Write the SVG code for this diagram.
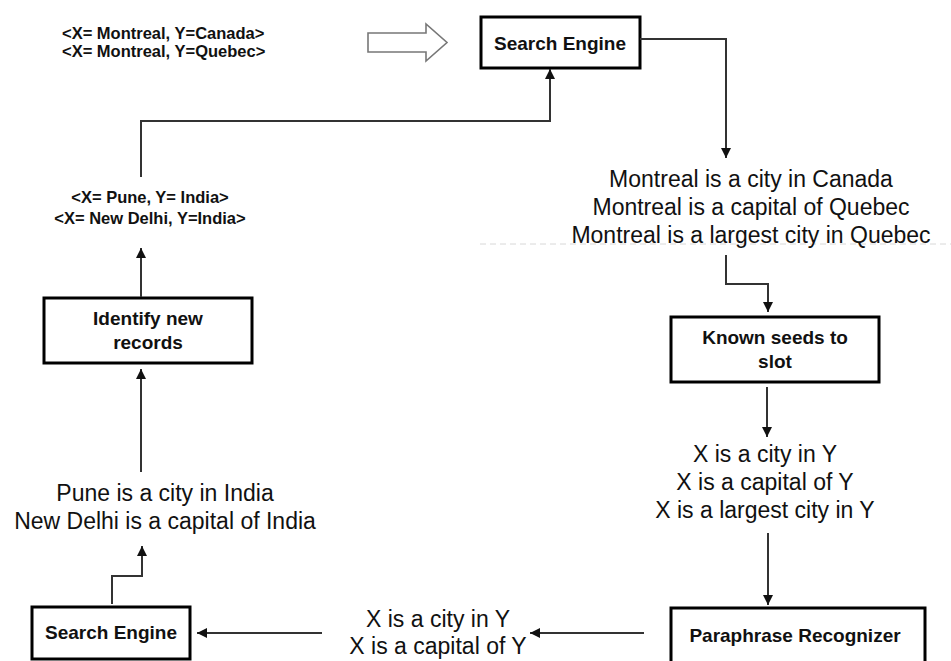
<svg xmlns="http://www.w3.org/2000/svg" width="951" height="661" viewBox="0 0 951 661">
<style>
.box{fill:#fff;stroke:#000;stroke-width:3}
.lbl{font-family:"Liberation Sans",Arial,sans-serif;font-weight:bold;font-size:19px;fill:#111;text-anchor:middle}
.tup{font-family:"Liberation Sans",Arial,sans-serif;font-weight:bold;font-size:16.5px;fill:#111}
.sen{font-family:"Liberation Sans",Arial,sans-serif;font-size:23px;fill:#111;text-anchor:middle}
.con{fill:none;stroke:#333;stroke-width:2}
</style>
<defs>
<marker id="ah" viewBox="0 0 10 10" refX="10" refY="5" markerWidth="10" markerHeight="10" markerUnits="userSpaceOnUse" orient="auto">
<path d="M0,0 L10,5 L0,10 z" fill="#111"/>
</marker>
</defs>
<rect width="951" height="661" fill="#fff"/>
<line x1="480" y1="244" x2="951" y2="244" stroke="#d8d8d8" stroke-width="1" stroke-dasharray="6 4"/>

<g id="seed-tuples">
<text class="tup" x="62" y="39">&lt;X= Montreal, Y=Canada&gt;</text>
<text class="tup" x="62" y="57">&lt;X= Montreal, Y=Quebec&gt;</text>
</g>
<g id="hollow-arrow">
<polygon points="368,33 426,33 426,24 447,42.5 426,61 426,52 368,52" fill="#fff" stroke="#777" stroke-width="1.6"/>
</g>
<g id="search-engine-top">
<rect class="box" x="481" y="17" width="159" height="51"/>
<text class="lbl" x="560" y="50">Search Engine</text>
</g>
<g id="montreal-sentences">
<text class="sen" x="751" y="187">Montreal is a city in Canada</text>
<text class="sen" x="751" y="215">Montreal is a capital of Quebec</text>
<text class="sen" x="751" y="243">Montreal is a largest city in Quebec</text>
</g>
<g id="known-seeds">
<rect class="box" x="671" y="317" width="208" height="65"/>
<text class="lbl" x="775" y="344">Known seeds to</text>
<text class="lbl" x="775" y="368">slot</text>
</g>
<g id="patterns">
<text class="sen" x="765" y="462">X is a city in Y</text>
<text class="sen" x="765" y="490">X is a capital of Y</text>
<text class="sen" x="765" y="518">X is a largest city in Y</text>
</g>
<g id="paraphrase-recognizer">
<rect class="box" x="671" y="608" width="254" height="70"/>
<text class="lbl" x="795" y="642">Paraphrase Recognizer</text>
</g>
<g id="filtered-patterns">
<text class="sen" x="438" y="627">X is a city in Y</text>
<text class="sen" x="438" y="654">X is a capital of Y</text>
</g>
<g id="search-engine-bottom">
<rect class="box" x="32" y="607" width="158" height="52"/>
<text class="lbl" x="111" y="639">Search Engine</text>
</g>
<g id="india-sentences">
<text class="sen" x="165" y="501">Pune is a city in India</text>
<text class="sen" x="165" y="529">New Delhi is a capital of India</text>
</g>
<g id="identify-new-records">
<rect class="box" x="44" y="298" width="208" height="65"/>
<text class="lbl" x="148" y="325">Identify new</text>
<text class="lbl" x="148" y="349">records</text>
</g>
<g id="new-tuples">
<text class="tup" x="150" y="203" text-anchor="middle">&lt;X= Pune, Y= India&gt;</text>
<text class="tup" x="150" y="224" text-anchor="middle">&lt;X= New Delhi, Y=India&gt;</text>
</g>

<g id="connectors">
<path class="con" d="M640,39 H726 V158" marker-end="url(#ah)"/>
<path class="con" d="M726,255 V284 H768 V312" marker-end="url(#ah)"/>
<path class="con" d="M767,387 V437" marker-end="url(#ah)"/>
<path class="con" d="M768,533 V605" marker-end="url(#ah)"/>
<path class="con" d="M644,633 H530" marker-end="url(#ah)"/>
<path class="con" d="M322,633 H197" marker-end="url(#ah)"/>
<path class="con" d="M112,604 V576 H142 V546" marker-end="url(#ah)"/>
<path class="con" d="M141,472 V369" marker-end="url(#ah)"/>
<path class="con" d="M141,297 V248" marker-end="url(#ah)"/>
<path class="con" d="M141,177 V121 H550 V69" marker-end="url(#ah)"/>
</g>
</svg>
